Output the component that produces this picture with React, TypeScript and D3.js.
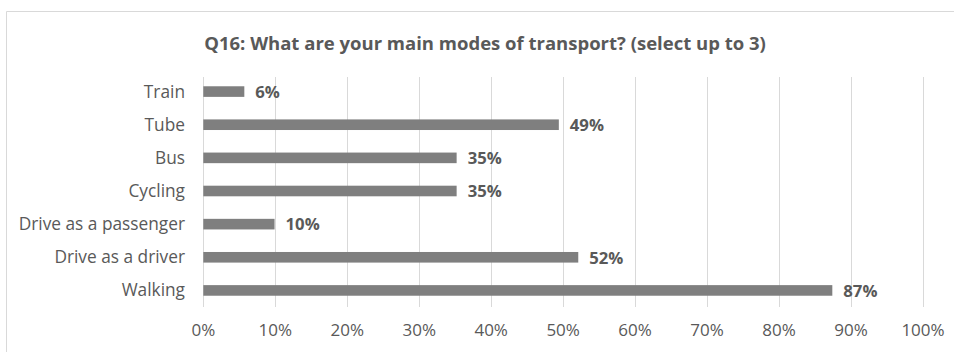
import React from "react";
import * as d3 from "d3";

const title = "Q16: What are your main modes of transport? (select up to 3)";
const categories = ["Train", "Tube", "Bus", "Cycling", "Drive as a passenger", "Drive as a driver", "Walking"];
const values = [5.7, 49.4, 35.2, 35.2, 9.9, 52.1, 87.4];
const ticks = [0, 10, 20, 30, 40, 50, 60, 70, 80, 90, 100];

const W = 954;
const H = 352;
const FONT = "'Open Sans', sans-serif";

export default function App() {
  const x = d3.scaleLinear().domain([0, 100]).range([203.3, 923]);
  const y = d3.scaleBand<string>().domain(categories).range([75, 307]).paddingInner(0.68).paddingOuter(0.34);
  const grey = "#595959";
  return (
    <svg width={W} height={H} style={{ position: "absolute", left: 0, top: 0, background: "#fff" }}>
      <rect x={0} y={0} width={W} height={H} fill="#fff" />
      <line x1={6.5} y1={11.5} x2={W} y2={11.5} stroke="#d9d9d9" strokeWidth={1} />
      <line x1={6.5} y1={11.5} x2={6.5} y2={H} stroke="#d9d9d9" strokeWidth={1} />
      <text x={485} y={49.5} textAnchor="middle" fontFamily={FONT} fontWeight="bold" fontSize={18.5} fill={grey}>
        {title}
      </text>
      {ticks.map((t) => (
        <g key={t}>
          <line x1={Math.round(x(t)) + 0.5} x2={Math.round(x(t)) + 0.5} y1={77} y2={307} stroke="#d9d9d9" strokeWidth={1} />
          <text x={x(t)} y={336} textAnchor="middle" fontFamily={FONT} fontSize={17} fill={grey}>
            {t + "%"}
          </text>
        </g>
      ))}
      {categories.map((c, i) => {
        const yy = y(c)!;
        const bw = y.bandwidth();
        return (
          <g key={c}>
            <rect x={x(0)} y={yy} width={x(values[i]) - x(0)} height={bw} fill="#7f7f7f" />
            <text x={185} y={yy + bw / 2} dy="0.35em" textAnchor="end" fontFamily={FONT} fontSize={17.3} fill={grey}>
              {c}
            </text>
            <text x={x(values[i]) + 11} y={yy + bw / 2} dy="0.38em" fontFamily={FONT} fontWeight="bold" fontSize={16.7} fill={grey}>
              {Math.round(values[i]) + "%"}
            </text>
          </g>
        );
      })}
    </svg>
  );
}
